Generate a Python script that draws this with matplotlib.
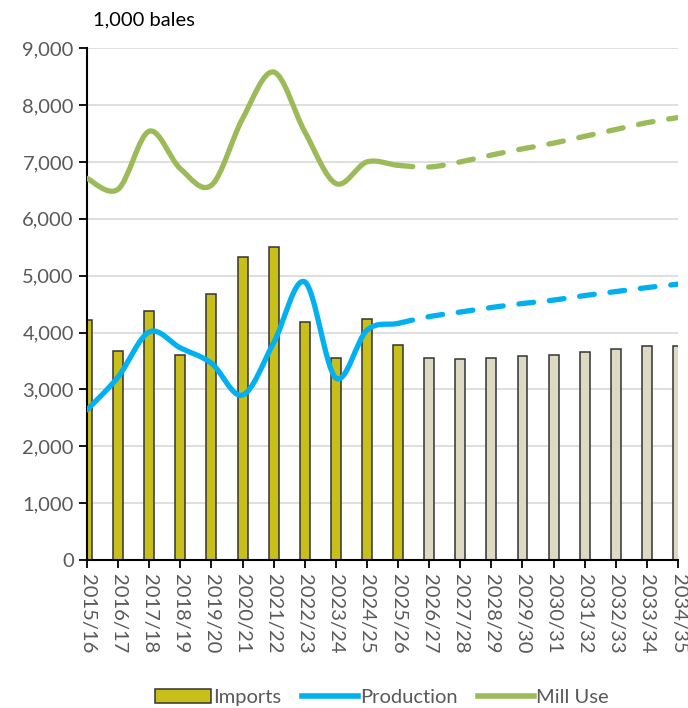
import numpy as np
import matplotlib.pyplot as plt
from matplotlib.path import Path
from matplotlib.patches import PathPatch, Patch
from matplotlib.lines import Line2D
from matplotlib.ticker import FuncFormatter

# marketing years
years = ["2015/16", "2016/17", "2017/18", "2018/19", "2019/20", "2020/21", "2021/22",
         "2022/23", "2023/24", "2024/25", "2025/26", "2026/27", "2027/28", "2028/29",
         "2029/30", "2030/31", "2031/32", "2032/33", "2033/34", "2034/35"]

# 1,000 bales
imports = [4220, 3680, 4380, 3600, 4670, 5320, 5510, 4180, 3560, 4240, 3780,
           3550, 3530, 3560, 3590, 3600, 3660, 3710, 3760, 3770]
production = [2640, 3220, 4010, 3730, 3460, 2900, 3820, 4890, 3200, 4040, 4160,
              4280, 4360, 4440, 4510, 4570, 4650, 4720, 4790, 4850]
mill_use = [6710, 6520, 7540, 6880, 6590, 7760, 8580, 7530, 6620, 7000, 6940,
            6910, 7000, 7120, 7230, 7330, 7450, 7570, 7690, 7780]

last_actual = 10  # 2025/26 is the last non-projected year

c_imp = "#C9BF1B"
c_imp_proj = "#DDD9C3"
c_prod = "#00B0F0"
c_mill = "#9BBB59"
c_text = "#595959"

plt.rcParams['font.family'] = ['Lato', 'DejaVu Sans']


def smooth_path(xs, ys, i0, i1):
    # excel-style smoothed line: catmull-rom segments as cubic beziers
    xs = np.asarray(xs, float)
    ys = np.asarray(ys, float)
    n = len(xs)
    verts = [(xs[i0], ys[i0])]
    codes = [Path.MOVETO]
    for i in range(i0, i1):
        p0 = max(i - 1, 0)
        p3 = min(i + 2, n - 1)
        c1 = (xs[i] + (xs[i + 1] - xs[p0]) / 6, ys[i] + (ys[i + 1] - ys[p0]) / 6)
        c2 = (xs[i + 1] - (xs[p3] - xs[i]) / 6, ys[i + 1] - (ys[p3] - ys[i]) / 6)
        verts += [c1, c2, (xs[i + 1], ys[i + 1])]
        codes += [Path.CURVE4] * 3
    return Path(verts, codes)


fig = plt.figure(figsize=(6.88, 7.08), dpi=100)
ax = fig.add_axes([0.1265, 0.209, 0.859, 0.723])

x = np.arange(len(years))
bar_colors = [c_imp if i <= last_actual else c_imp_proj for i in range(len(years))]
ax.bar(x, imports, width=0.32, color=bar_colors, edgecolor="#333333", linewidth=1.1, zorder=2)

for vals, col in [(production, c_prod), (mill_use, c_mill)]:
    solid = smooth_path(x, vals, 0, last_actual)
    dashed = smooth_path(x, vals, last_actual, len(x) - 1)
    ax.add_patch(PathPatch(solid, facecolor="none", edgecolor=col, lw=3.8,
                           capstyle="round", joinstyle="round", zorder=3))
    ax.add_patch(PathPatch(dashed, facecolor="none", edgecolor=col, lw=3.8,
                           linestyle=(0, (2.8, 3.0)), capstyle="round", zorder=3))

ax.set_xlim(0, len(years) - 1)
ax.set_ylim(0, 9000)
ax.set_yticks(np.arange(0, 9001, 1000))
ax.yaxis.set_major_formatter(FuncFormatter(lambda v, p: f"{int(v):,}"))
ax.set_xticks(x)
ax.set_xticklabels(years, rotation=270, va="top", ha="center")

ax.grid(axis="y", color="#D9D9D9", linewidth=1.2, zorder=0)
ax.set_axisbelow(True)
for s in ["top", "right"]:
    ax.spines[s].set_visible(False)
for s in ["left", "bottom"]:
    ax.spines[s].set_linewidth(1.5)
    ax.spines[s].set_color("black")
ax.tick_params(axis="both", colors="black", labelcolor=c_text, labelsize=14.5,
               length=6, width=1.3)
ax.tick_params(axis="x", pad=4)

fig.text(0.135, 0.972, "1,000 bales", fontsize=14.5, color="black", va="center")

handles = [Patch(facecolor=c_imp, edgecolor="#333333", linewidth=1.1),
           Line2D([0], [0], color=c_prod, lw=4),
           Line2D([0], [0], color=c_mill, lw=4)]
fig.legend(handles, ["Imports", "Production", "Mill Use"], loc="center",
           bbox_to_anchor=(0.555, 0.015), ncol=3, frameon=False, fontsize=14.5,
           labelcolor=c_text, handlelength=2.8, handletextpad=0.1, columnspacing=1.0)

fig.savefig("out.png", dpi=100)
